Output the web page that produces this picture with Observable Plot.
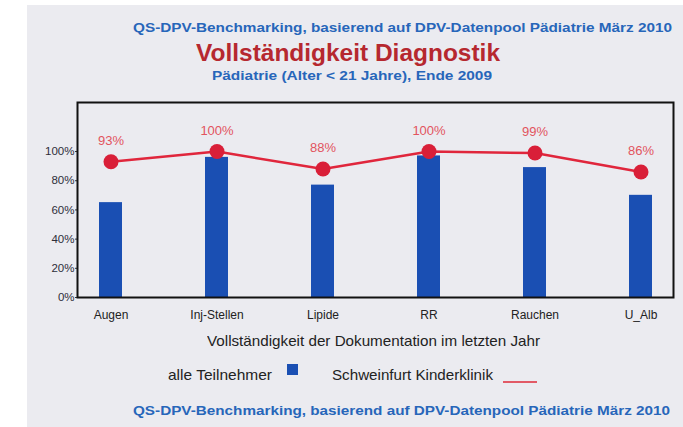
<!DOCTYPE html>
<html>
<head>
<meta charset="utf-8">
<script src="https://cdn.jsdelivr.net/npm/d3@7"></script>
<script src="https://cdn.jsdelivr.net/npm/@observablehq/plot@0.6"></script>
<style>
  html, body { margin: 0; padding: 0; background: #ffffff; width: 683px; height: 427px; overflow: hidden; }
  body { position: relative; font-family: "Liberation Sans", Arial, sans-serif; }
  #panel { position: absolute; left: 27px; top: 5px; width: 656px; height: 422px; background: #ebebf0; }
  .t { position: absolute; white-space: nowrap; line-height: 1; transform-origin: 0 0; display: inline-block; }
  .blue { color: #2766ba; font-weight: bold; }
  #chart { position: absolute; left: 27px; top: 90px; }
  .box { position: absolute; }
</style>
</head>
<body>
<div id="panel"></div>
<div class="t blue" data-l="133" data-r="672" data-cy="28" data-fs="12.5">QS-DPV-Benchmarking, basierend auf DPV-Datenpool Pädiatrie März 2010</div>
<div class="t" data-l="196" data-r="500" data-cy="53" data-fs="24" style="font-weight:bold; color:#b6282f;">Vollständigkeit Diagnostik</div>
<div class="t blue" data-l="212" data-r="492" data-cy="75.5" data-fs="13.5">Pädiatrie (Alter &lt; 21 Jahre), Ende 2009</div>
<div id="chart"></div>
<div class="t" data-l="207" data-r="540" data-cy="340" data-fs="15" style="color:#222;">Vollständigkeit der Dokumentation im letzten Jahr</div>
<div class="t" data-l="168" data-r="272" data-cy="374" data-fs="15" style="color:#222;">alle Teilnehmer</div>
<div class="box" style="left:287px; top:364px; width:11px; height:11px; background:#1a4fb3;"></div>
<div class="t" data-l="332" data-r="493" data-cy="374" data-fs="15" style="color:#222;">Schweinfurt Kinderklinik</div>
<div class="box" style="left:503px; top:381px; width:34px; height:1.5px; background:#e25a66;"></div>
<div class="t blue" data-l="133" data-r="670" data-cy="411.5" data-fs="12.5">QS-DPV-Benchmarking, basierend auf DPV-Datenpool Pädiatrie März 2010</div>
<script>
const categories = ["Augen", "Inj-Stellen", "Lipide", "RR", "Rauchen", "U_Alb"];
const alleTeilnehmer = [65, 96, 77, 97, 89, 70];       // percent, blue bars
const schweinfurt = [93, 100, 88, 100, 99, 86];        // percent, red line
const yTicks = [0, 20, 40, 60, 80, 100];

const rows = categories.map((c, i) => ({cat: c, alle: alleTeilnehmer[i], klinik: schweinfurt[i]}));

const chart = Plot.plot({
  width: 656,
  height: 235,
  marginLeft: 50,
  marginRight: 10,
  marginTop: 12,
  marginBottom: 28,
  style: {background: "transparent", fontFamily: "Liberation Sans, Arial, sans-serif"},
  x: {domain: categories, paddingInner: 0.787, paddingOuter: 0.193, label: null},
  y: {domain: [0, 133.6], label: null},
  marks: [
    Plot.barY(rows, {x: "cat", y: "alle", fill: "#1a4fb3"}),
    Plot.line(rows, {x: "cat", y: "klinik", stroke: "#e0263c", strokeWidth: 2.5}),
    Plot.dot(rows, {x: "cat", y: "klinik", r: 7.5, fill: "#d91f38", stroke: "none"}),
    Plot.text(rows, {x: "cat", y: "klinik", text: d => d.klinik + "%", dy: -21, fill: "#e2545e", fontSize: 13}),
    Plot.axisY({ticks: yTicks, tickFormat: d => d + "%", tickSize: 2, tickPadding: 1, fontSize: 11.5, fill: "#2e2e3a", stroke: "#333"}),
    Plot.axisX({tickSize: 0, tickPadding: 13, fontSize: 12, fill: "#222"}),
    Plot.frame({stroke: "#111", strokeWidth: 2})
  ]
});
document.getElementById("chart").appendChild(chart);

// place and fit the text lines to the reference boxes
document.querySelectorAll(".t").forEach(el => {
  const fs = +el.dataset.fs, l = +el.dataset.l, r = +el.dataset.r, cy = +el.dataset.cy;
  el.style.fontSize = fs + "px";
  el.style.left = l + "px";
  el.style.top = (cy - 0.49 * fs) + "px";
  const w = el.getBoundingClientRect().width;
  el.style.transform = `scaleX(${(r - l) / w})`;
});
</script>
</body>
</html>
